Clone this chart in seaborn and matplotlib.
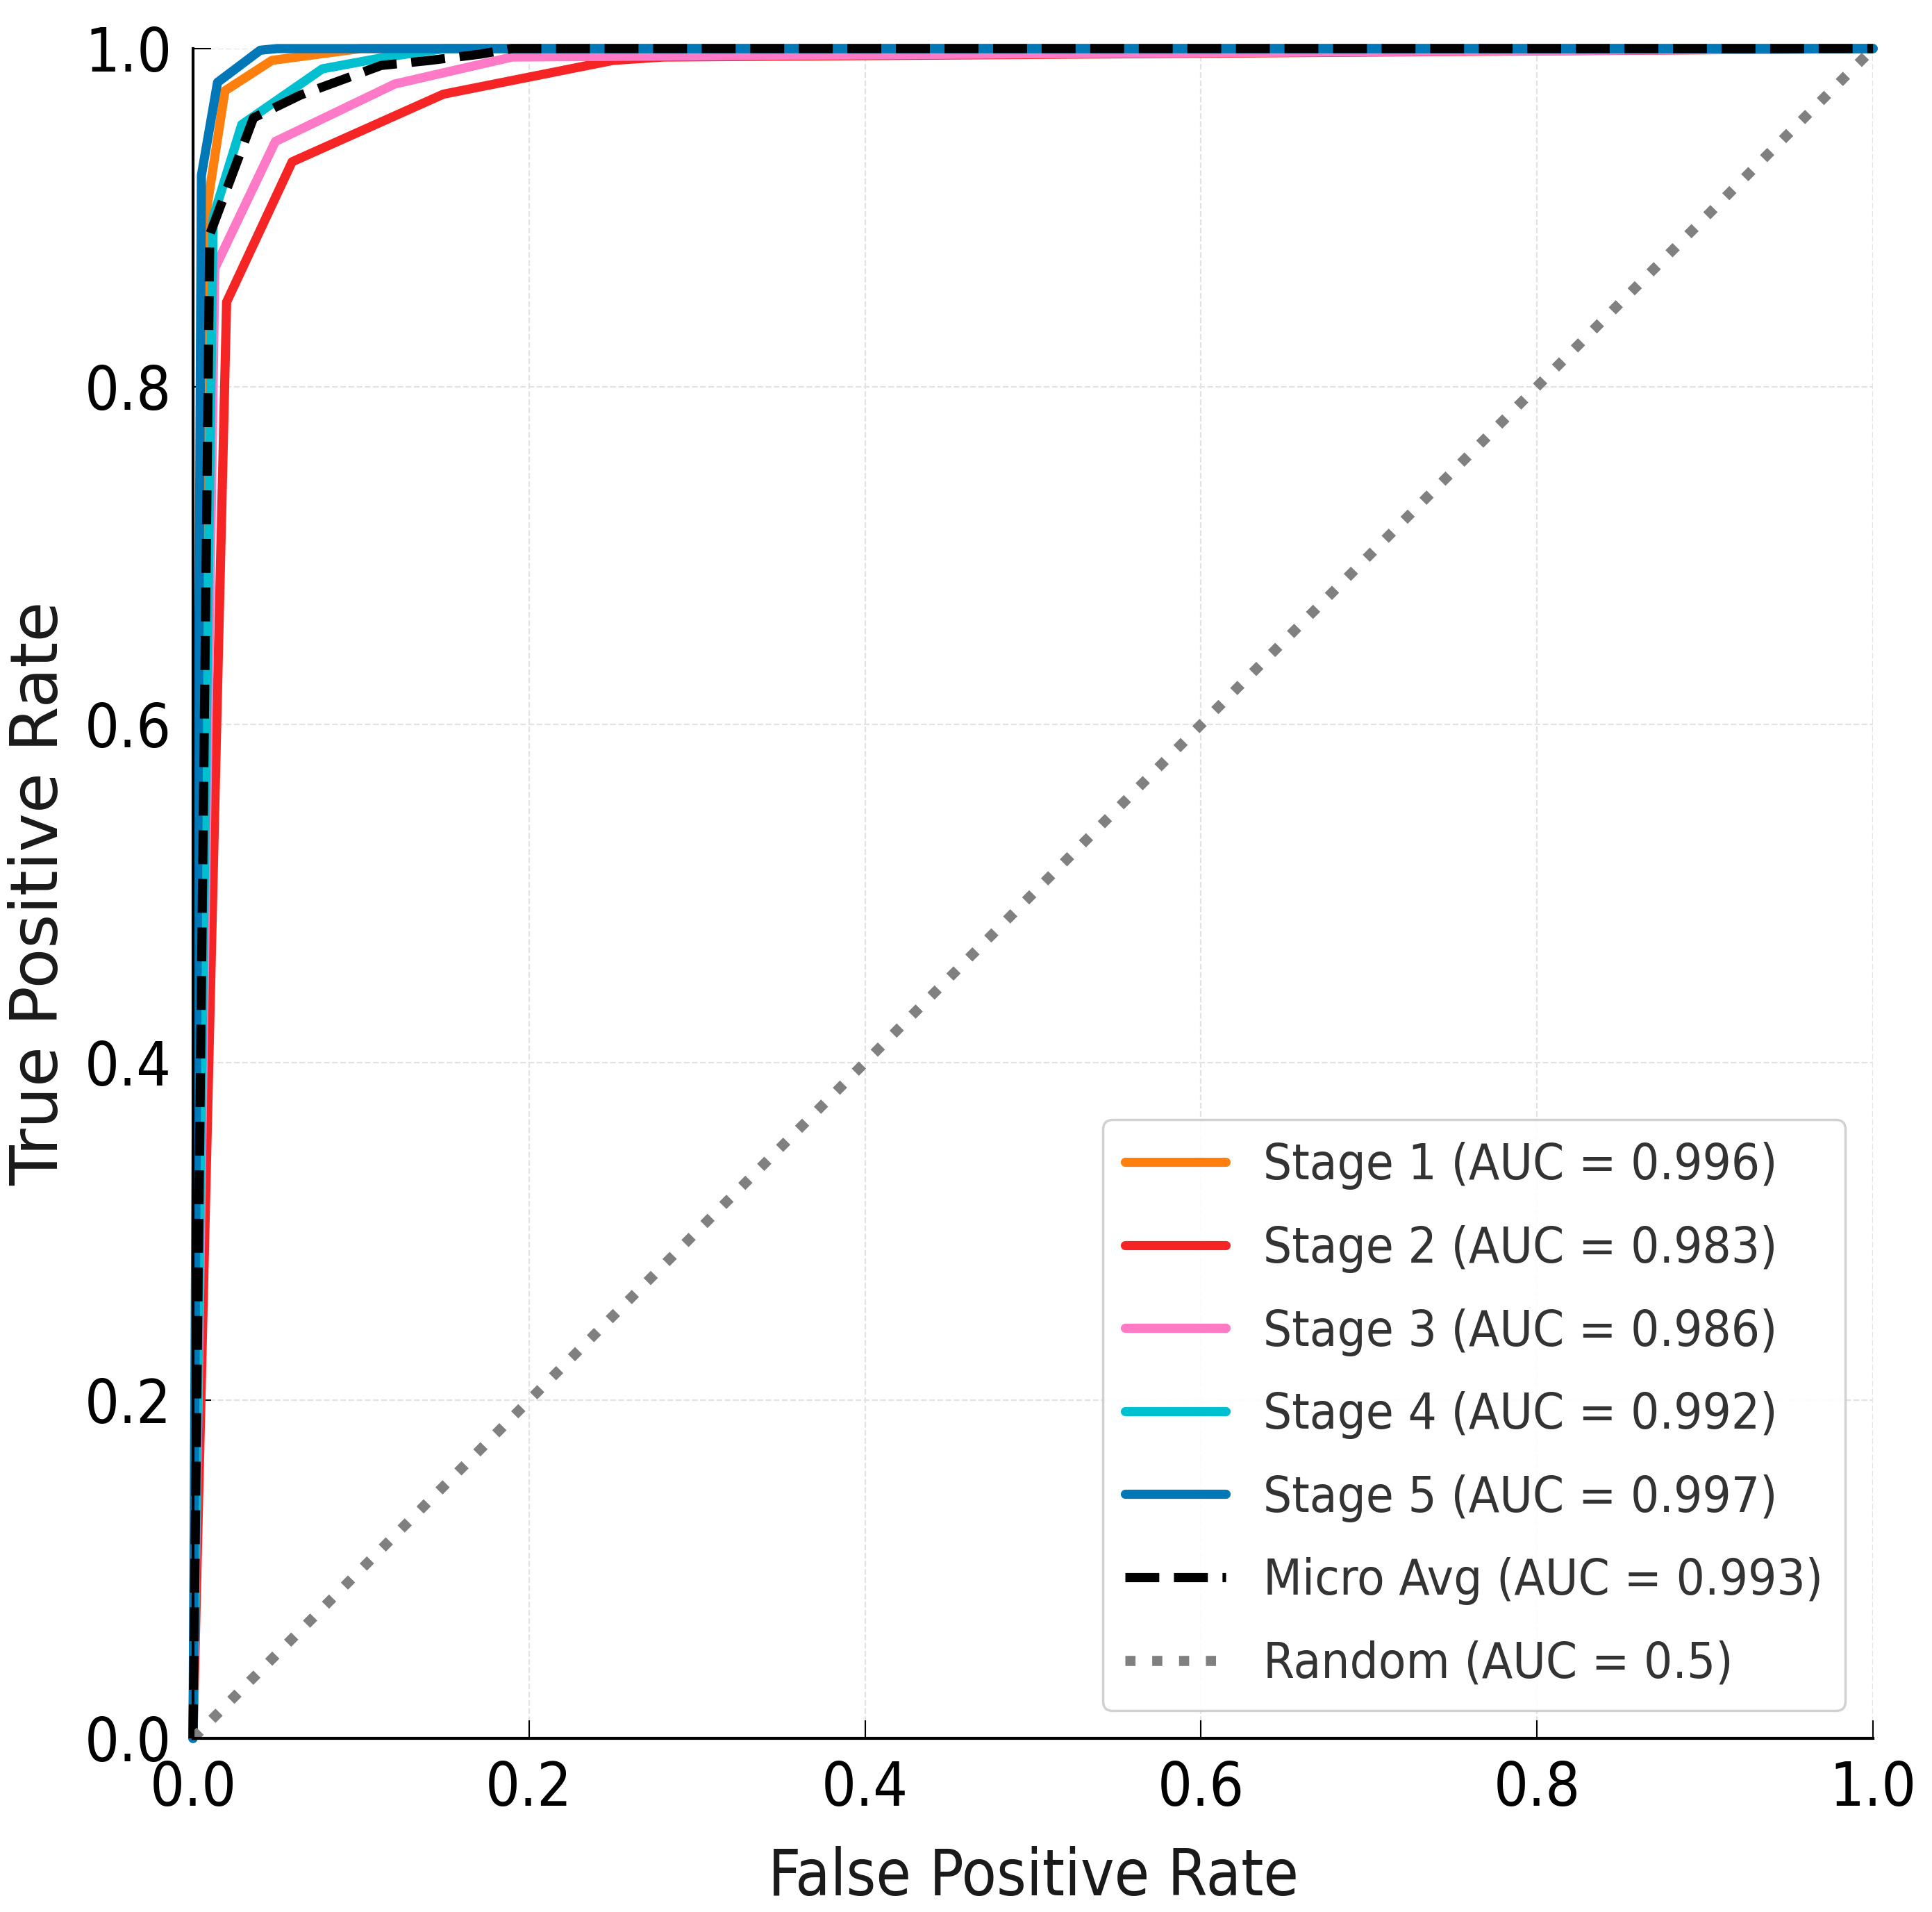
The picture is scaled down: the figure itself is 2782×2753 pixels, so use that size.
import matplotlib

matplotlib.use("Agg")
import matplotlib.pyplot as plt
import pandas as pd
import seaborn as sns

# ROC points
stage1_fpr = [0.0, 0.008, 0.019, 0.047, 0.077, 0.1, 1.0]
stage1_tpr = [0.0, 0.904, 0.975, 0.993, 0.997, 1.0, 1.0]

stage2_fpr = [0.0, 0.02, 0.059, 0.149, 0.25, 0.28, 1.0]
stage2_tpr = [0.0, 0.85, 0.933, 0.973, 0.993, 0.995, 1.0]

stage3_fpr = [0.0, 0.013, 0.049, 0.12, 0.19, 1.0]
stage3_tpr = [0.0, 0.87, 0.945, 0.979, 0.995, 1.0]

stage4_fpr = [0.0, 0.012, 0.029, 0.077, 0.115, 0.15, 1.0]
stage4_tpr = [0.0, 0.90, 0.955, 0.988, 0.995, 1.0, 1.0]

stage5_fpr = [0.0, 0.005, 0.0146, 0.04, 0.05, 1.0]
stage5_tpr = [0.0, 0.925, 0.98, 0.999, 1.0, 1.0]

micro_fpr = [0.0, 0.01, 0.036, 0.064, 0.112, 0.141, 0.171, 0.19, 1.0]
micro_tpr = [0.0, 0.89, 0.959, 0.9725, 0.990, 0.993, 0.9967, 1.0, 1.0]

random_fpr = [0.0, 1.0]
random_tpr = [0.0, 1.0]

stage_names = ["Stage 1", "Stage 2", "Stage 3", "Stage 4", "Stage 5"]
stage_auc = [0.996, 0.983, 0.986, 0.992, 0.997]
stage_colors = ["#ff7f0e", "#f52525", "#ff7ac6", "#00bfcf", "#0077b6"]
micro_auc = 0.993
random_auc = 0.5

ticks = [0.0, 0.2, 0.4, 0.6, 0.8, 1.0]
tick_labels = ["0.0", "0.2", "0.4", "0.6", "0.8", "1.0"]

sns.set_style("whitegrid", {"grid.linestyle": "--", "grid.color": "#e3e3e3"})
plt.rcParams["font.family"] = ["DejaVu Sans"]
plt.rcParams["font.stretch"] = "condensed"

fig, ax = plt.subplots(figsize=(27.82, 27.53), dpi=100)
fig.subplots_adjust(left=0.0999, right=0.9695, bottom=0.0908, top=0.9746)

stage_points = [
    (stage1_fpr, stage1_tpr),
    (stage2_fpr, stage2_tpr),
    (stage3_fpr, stage3_tpr),
    (stage4_fpr, stage4_tpr),
    (stage5_fpr, stage5_tpr),
]
for (fpr, tpr), name, auc, color in zip(stage_points, stage_names, stage_auc, stage_colors):
    curve = pd.DataFrame({"fpr": fpr, "tpr": tpr})
    sns.lineplot(
        data=curve, x="fpr", y="tpr", color=color, lw=9.5, sort=False,
        estimator=None, label=f"{name} (AUC = {auc:.3f})", ax=ax, clip_on=False,
    )

micro = pd.DataFrame({"fpr": micro_fpr, "tpr": micro_tpr})
sns.lineplot(
    data=micro, x="fpr", y="tpr", color="black", lw=9.5, linestyle="--", sort=False,
    estimator=None, label=f"Micro Avg (AUC = {micro_auc:.3f})", ax=ax, clip_on=False,
)

chance = pd.DataFrame({"fpr": random_fpr, "tpr": random_tpr})
sns.lineplot(
    data=chance, x="fpr", y="tpr", color="#808080", lw=10.5, linestyle=":", sort=False,
    estimator=None, label=f"Random (AUC = {random_auc})", ax=ax,
)

ax.set_xlim(0, 1)
ax.set_ylim(0, 1)
ax.set_xticks(ticks)
ax.set_xticklabels(tick_labels)
ax.set_yticks(ticks)
ax.set_yticklabels(tick_labels)
ax.grid(True, lw=1.6)
ax.tick_params(direction="in", length=19, width=1.5, pad=22, labelsize=63, colors="black",
               bottom=True, left=True)

for side in ["top", "right"]:
    ax.spines[side].set_visible(False)
for side in ["left", "bottom"]:
    ax.spines[side].set_color("black")
    ax.spines[side].set_linewidth(3)

ax.set_xlabel("False Positive Rate", fontsize=66, color="#1a1a1a")
ax.set_ylabel("True Positive Rate", fontsize=68, color="#1a1a1a", fontstretch="normal")
ax.xaxis.set_label_coords(0.5, -0.0637)
ax.yaxis.set_label_coords(-0.072, 0.5)

legend = ax.legend(
    loc="lower right", fontsize=52, labelspacing=0.7, handlelength=2.0,
    handletextpad=0.75, borderaxespad=0.55, borderpad=0.45, frameon=True,
    fancybox=True, framealpha=0.9, edgecolor="#cccccc",
)
legend.get_frame().set_linewidth(2.5)
for text in legend.get_texts():
    text.set_color("#333333")

fig.savefig("out.png", dpi=100)
plt.close(fig)
